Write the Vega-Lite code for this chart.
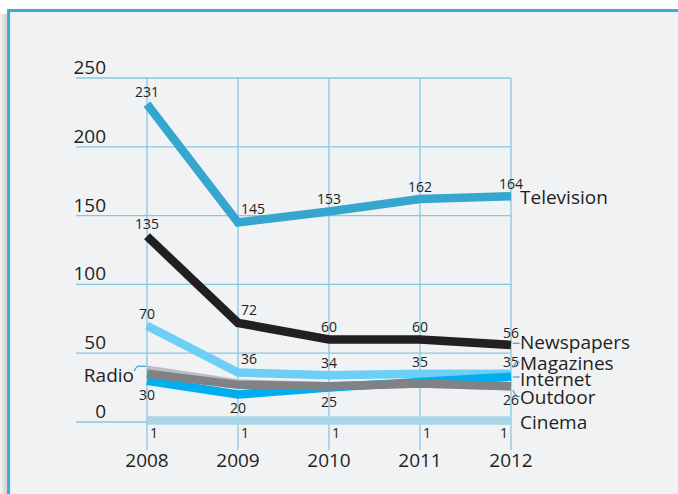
{
  "$schema": "https://vega.github.io/schema/vega-lite/v6.json",
  "width": 435,
  "height": 372,
  "autosize": {"type": "none"},
  "padding": {"left": 76, "top": 78, "right": 167, "bottom": 44},
  "background": "#ffffff",
  "config": {"view": {"stroke": null}, "font": "Open Sans"},
  "datasets": {
    "media": [
      {"series": "Television", "year": 2008, "value": 231},
      {"series": "Television", "year": 2009, "value": 145},
      {"series": "Television", "year": 2010, "value": 153},
      {"series": "Television", "year": 2011, "value": 162},
      {"series": "Television", "year": 2012, "value": 164},
      {"series": "Newspapers", "year": 2008, "value": 135},
      {"series": "Newspapers", "year": 2009, "value": 72},
      {"series": "Newspapers", "year": 2010, "value": 60},
      {"series": "Newspapers", "year": 2011, "value": 60},
      {"series": "Newspapers", "year": 2012, "value": 56},
      {"series": "Cinema", "year": 2008, "value": 1},
      {"series": "Cinema", "year": 2009, "value": 1},
      {"series": "Cinema", "year": 2010, "value": 1},
      {"series": "Cinema", "year": 2011, "value": 1},
      {"series": "Cinema", "year": 2012, "value": 1},
      {"series": "Radio", "year": 2008, "value": 38},
      {"series": "Radio", "year": 2009, "value": 28},
      {"series": "Radio", "year": 2010, "value": 26},
      {"series": "Radio", "year": 2011, "value": 28},
      {"series": "Radio", "year": 2012, "value": 26},
      {"series": "Magazines", "year": 2008, "value": 70},
      {"series": "Magazines", "year": 2009, "value": 36},
      {"series": "Magazines", "year": 2010, "value": 34},
      {"series": "Magazines", "year": 2011, "value": 35},
      {"series": "Magazines", "year": 2012, "value": 35},
      {"series": "Internet", "year": 2008, "value": 30},
      {"series": "Internet", "year": 2009, "value": 20},
      {"series": "Internet", "year": 2010, "value": 25},
      {"series": "Internet", "year": 2011, "value": 29},
      {"series": "Internet", "year": 2012, "value": 33},
      {"series": "Outdoor", "year": 2008, "value": 35},
      {"series": "Outdoor", "year": 2009, "value": 27},
      {"series": "Outdoor", "year": 2010, "value": 26},
      {"series": "Outdoor", "year": 2011, "value": 28},
      {"series": "Outdoor", "year": 2012, "value": 26}
    ],
    "yticks": [{"v": 0}, {"v": 50}, {"v": 100}, {"v": 150}, {"v": 200}, {"v": 250}],
    "labels": [
      {"series": "Television", "lx": 2012.099, "ly": 158.2, "align": "left"},
      {"series": "Newspapers", "lx": 2012.099, "ly": 53.3, "align": "left"},
      {"series": "Magazines", "lx": 2012.099, "ly": 38.1, "align": "left"},
      {"series": "Internet", "lx": 2012.099, "ly": 26.2, "align": "left"},
      {"series": "Outdoor", "lx": 2012.099, "ly": 12.9, "align": "left"},
      {"series": "Cinema", "lx": 2012.099, "ly": -4.8, "align": "left"},
      {"series": "Radio", "lx": 2007.857, "ly": 29.1, "align": "right"}
    ],
    "connectors": [
      {"series": "Newspapers", "x1": 2012.02, "x2": 2012.095, "y1": 57.2, "y2": 57.2},
      {"series": "Magazines", "x1": 2012.02, "x2": 2012.06, "y1": 39.5, "y2": 43.5},
      {"series": "Magazines", "x1": 2012.06, "x2": 2012.095, "y1": 43.5, "y2": 43.5},
      {"series": "Internet", "x1": 2012.02, "x2": 2012.095, "y1": 32.7, "y2": 32.7},
      {"series": "Outdoor", "x1": 2012.02, "x2": 2012.06, "y1": 23, "y2": 18.5},
      {"series": "Outdoor", "x1": 2012.06, "x2": 2012.095, "y1": 18.5, "y2": 18.5},
      {"series": "Radio", "x1": 2007.857, "x2": 2007.893, "y1": 37.1, "y2": 40.5},
      {"series": "Radio", "x1": 2007.893, "x2": 2007.99, "y1": 40.5, "y2": 40.5}
    ]
  },
  "layer": [
    {
      "data": {"values": [{}]},
      "mark": {"type": "rect", "fill": {"gradient": "linear", "x1": 0, "y1": 0, "x2": 1, "y2": 0, "stops": [{"offset": 0, "color": "#f4f4f4"}, {"offset": 1, "color": "#c8c8c8"}]}},
      "encoding": {
        "x": {"datum": 2006.3846, "type": "quantitative", "scale": {"domain": [2007.2198, 2012], "nice": false, "zero": false}, "axis": null},
        "x2": {"datum": 2006.479},
        "y": {"datum": 296.5, "type": "quantitative", "scale": {"domain": [-20.35, 250], "nice": false, "zero": false}, "axis": null},
        "y2": {"datum": -80}
      }
    },
    {
      "data": {"values": [{}]},
      "mark": {"type": "rect", "fill": "#f1f2f4", "stroke": "#39acd4", "strokeWidth": 3},
      "encoding": {
        "x": {"datum": 2006.479, "type": "quantitative", "axis": null},
        "x2": {"datum": 2014.5},
        "y": {"datum": 299.06, "type": "quantitative", "axis": null},
        "y2": {"datum": -80}
      }
    },
    {
      "data": {"name": "media"},
      "transform": [{"filter": "datum.series == 'Television'"}],
      "mark": {"type": "rule", "color": "#86c7e4", "strokeWidth": 1.3},
      "encoding": {
        "x": {"field": "year", "type": "quantitative", "axis": null},
        "y": {"datum": 250, "type": "quantitative", "axis": null},
        "y2": {"datum": -20.35}
      }
    },
    {
      "data": {"name": "yticks"},
      "mark": {"type": "rule", "color": "#86c7e4", "strokeWidth": 1.3},
      "encoding": {
        "y": {"field": "v", "type": "quantitative", "axis": null},
        "x": {"datum": 2007.2198, "type": "quantitative", "axis": null},
        "x2": {"datum": 2012}
      }
    },
    {
      "data": {"name": "yticks"},
      "mark": {"type": "text", "fontSize": 19, "color": "#231f20", "align": "right", "baseline": "alphabetic", "dy": -4},
      "encoding": {
        "y": {"field": "v", "type": "quantitative", "axis": null},
        "x": {"datum": 2007.5495, "type": "quantitative", "axis": null},
        "text": {"field": "v", "type": "quantitative"}
      }
    },
    {
      "data": {"name": "media"},
      "transform": [{"filter": "datum.series == 'Television'"}],
      "mark": {"type": "text", "fontSize": 19, "color": "#231f20", "align": "center", "baseline": "alphabetic", "dy": 17},
      "encoding": {
        "x": {"field": "year", "type": "quantitative", "axis": null},
        "y": {"datum": -20.35, "type": "quantitative", "axis": null},
        "text": {"field": "year", "type": "quantitative", "format": "d"}
      }
    },
    {
      "data": {"name": "media"},
      "mark": {"type": "line", "strokeWidth": 8.5, "strokeJoin": "miter", "strokeCap": "butt"},
      "encoding": {
        "x": {"field": "year", "type": "quantitative", "axis": null},
        "y": {"field": "value", "type": "quantitative", "axis": null},
        "color": {"field": "series", "type": "nominal", "legend": null, "scale": {"domain": ["Television", "Newspapers", "Cinema", "Radio", "Magazines", "Internet", "Outdoor"], "range": ["#35a7cf", "#231f20", "#a9d5e8", "#bcbec0", "#6dcff6", "#00aeef", "#808285"]}}
      }
    },
    {
      "data": {"name": "media"},
      "transform": [{"filter": "(datum.series == 'Television' || datum.series == 'Newspapers' || datum.series == 'Magazines') && datum.year != 2009"}],
      "mark": {"type": "text", "fontSize": 14, "color": "#231f20", "align": "center", "baseline": "alphabetic", "dy": -7},
      "encoding": {
        "x": {"field": "year", "type": "quantitative", "axis": null},
        "y": {"field": "value", "type": "quantitative", "axis": null},
        "text": {"field": "value", "type": "quantitative"}
      }
    },
    {
      "data": {"name": "media"},
      "transform": [{"filter": "(datum.series == 'Television' || datum.series == 'Newspapers' || datum.series == 'Magazines') && datum.year == 2009"}],
      "mark": {"type": "text", "fontSize": 14, "color": "#231f20", "align": "left", "baseline": "alphabetic", "dx": 3, "dy": -8},
      "encoding": {
        "x": {"field": "year", "type": "quantitative", "axis": null},
        "y": {"field": "value", "type": "quantitative", "axis": null},
        "text": {"field": "value", "type": "quantitative"}
      }
    },
    {
      "data": {"name": "media"},
      "transform": [{"filter": "(datum.series == 'Internet' && datum.year <= 2010) || (datum.series == 'Outdoor' && datum.year == 2012)"}],
      "mark": {"type": "text", "fontSize": 14, "color": "#231f20", "align": "center", "baseline": "alphabetic", "dy": 19},
      "encoding": {
        "x": {"field": "year", "type": "quantitative", "axis": null},
        "y": {"field": "value", "type": "quantitative", "axis": null},
        "text": {"field": "value", "type": "quantitative"}
      }
    },
    {
      "data": {"name": "media"},
      "transform": [{"filter": "datum.series == 'Cinema' && datum.year < 2012"}],
      "mark": {"type": "text", "fontSize": 14, "color": "#231f20", "align": "left", "baseline": "alphabetic", "dx": 3, "dy": 17},
      "encoding": {
        "x": {"field": "year", "type": "quantitative", "axis": null},
        "y": {"field": "value", "type": "quantitative", "axis": null},
        "text": {"field": "value", "type": "quantitative"}
      }
    },
    {
      "data": {"name": "media"},
      "transform": [{"filter": "datum.series == 'Cinema' && datum.year == 2012"}],
      "mark": {"type": "text", "fontSize": 14, "color": "#231f20", "align": "right", "baseline": "alphabetic", "dx": -3, "dy": 17},
      "encoding": {
        "x": {"field": "year", "type": "quantitative", "axis": null},
        "y": {"field": "value", "type": "quantitative", "axis": null},
        "text": {"field": "value", "type": "quantitative"}
      }
    },
    {
      "data": {"name": "connectors"},
      "mark": {"type": "rule", "color": "#35a7cf", "strokeWidth": 1.2},
      "encoding": {
        "x": {"field": "x1", "type": "quantitative", "axis": null},
        "x2": {"field": "x2"},
        "y": {"field": "y1", "type": "quantitative", "axis": null},
        "y2": {"field": "y2"}
      }
    },
    {
      "data": {"name": "labels"},
      "transform": [{"filter": "datum.align == 'left'"}],
      "mark": {"type": "text", "fontSize": 19, "color": "#231f20", "align": "left", "baseline": "alphabetic"},
      "encoding": {
        "x": {"field": "lx", "type": "quantitative", "axis": null},
        "y": {"field": "ly", "type": "quantitative", "axis": null},
        "text": {"field": "series", "type": "nominal"}
      }
    },
    {
      "data": {"name": "labels"},
      "transform": [{"filter": "datum.align == 'right'"}],
      "mark": {"type": "text", "fontSize": 19, "color": "#231f20", "align": "right", "baseline": "alphabetic"},
      "encoding": {
        "x": {"field": "lx", "type": "quantitative", "axis": null},
        "y": {"field": "ly", "type": "quantitative", "axis": null},
        "text": {"field": "series", "type": "nominal"}
      }
    }
  ]
}
